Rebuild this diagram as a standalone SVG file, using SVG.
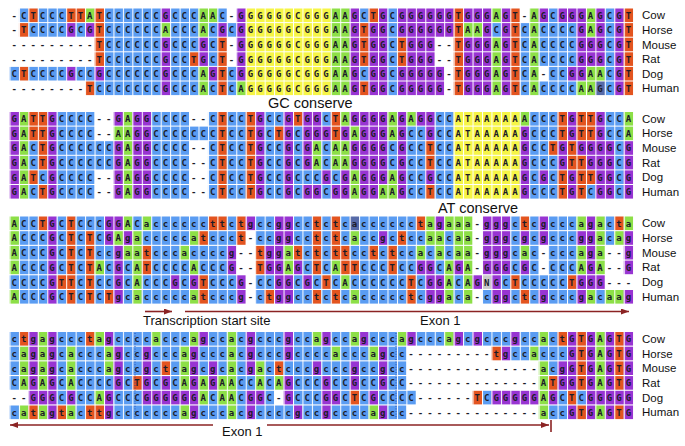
<svg xmlns="http://www.w3.org/2000/svg" width="685" height="446" viewBox="0 0 685 446">
<style>
.r rect{height:13.6px}
.c{fill:#5a9cf2}.g{fill:#9834d2}.t{fill:#e3541f}.a{fill:#8ddf47}.y{fill:#f6f546}.n{fill:#c9c9c9}.h{fill:#566aa8}
.s{font:bold 9px "DejaVu Sans Mono",monospace;letter-spacing:4.03px;fill:#1c1c28}
.lb{font:11.5px "Liberation Sans",Arial,sans-serif;fill:#111}
.note{font:14.5px "Liberation Sans",Arial,sans-serif;fill:#111}
.ann{font:13px "Liberation Sans",Arial,sans-serif;fill:#111}
.conn line{stroke:#8b2323;stroke-width:1.6;fill:none}
</style>
<defs>
<pattern id="vg" patternUnits="userSpaceOnUse" x="9.5" y="0" width="9.45" height="4"><rect x="0" y="0" width="1" height="4" fill="#fff"/></pattern>
<marker id="ah" markerUnits="userSpaceOnUse" markerWidth="9" markerHeight="7" refX="8" refY="3" orient="auto"><path d="M0,0 L8,3 L0,6 z" fill="#8b2323"/></marker>
</defs>
<rect width="685" height="446" fill="#fff"/>

<g id="block1">
<g class="r" transform="translate(9.5 8.5) scale(9.45 1)"><rect class="c" x="1" width="1"/><rect class="t" x="2" width="1"/><rect class="c" x="3" width="3"/><rect class="t" x="6" width="2"/><rect class="a" x="8" width="1"/><rect class="t" x="9" width="1"/><rect class="c" x="10" width="6"/><rect class="g" x="16" width="1"/><rect class="c" x="17" width="3"/><rect class="a" x="20" width="2"/><rect class="c" x="22" width="1"/><rect class="g" x="24" width="1"/><rect class="y" x="25" width="9"/><rect class="a" x="34" width="2"/><rect class="g" x="36" width="1"/><rect class="c" x="37" width="1"/><rect class="t" x="38" width="1"/><rect class="g" x="39" width="1"/><rect class="c" x="40" width="1"/><rect class="g" x="41" width="6"/><rect class="t" x="47" width="1"/><rect class="g" x="48" width="3"/><rect class="a" x="51" width="1"/><rect class="g" x="52" width="1"/><rect class="t" x="53" width="1"/><rect class="a" x="55" width="1"/><rect class="g" x="56" width="1"/><rect class="c" x="57" width="1"/><rect class="g" x="58" width="3"/><rect class="a" x="61" width="1"/><rect class="g" x="62" width="1"/><rect class="c" x="63" width="1"/><rect class="g" x="64" width="1"/><rect class="t" x="65" width="1"/></g>
<g class="r" transform="translate(9.5 23.1) scale(9.45 1)"><rect class="t" x="1" width="1"/><rect class="c" x="2" width="4"/><rect class="g" x="6" width="1"/><rect class="c" x="7" width="1"/><rect class="g" x="8" width="1"/><rect class="t" x="9" width="1"/><rect class="c" x="10" width="6"/><rect class="a" x="16" width="1"/><rect class="c" x="17" width="3"/><rect class="a" x="20" width="1"/><rect class="c" x="21" width="1"/><rect class="g" x="22" width="1"/><rect class="c" x="23" width="1"/><rect class="g" x="24" width="1"/><rect class="y" x="25" width="9"/><rect class="a" x="34" width="2"/><rect class="g" x="36" width="1"/><rect class="t" x="37" width="1"/><rect class="g" x="38" width="2"/><rect class="c" x="40" width="1"/><rect class="g" x="41" width="6"/><rect class="t" x="47" width="1"/><rect class="a" x="48" width="2"/><rect class="g" x="50" width="1"/><rect class="c" x="51" width="1"/><rect class="g" x="52" width="1"/><rect class="t" x="53" width="1"/><rect class="c" x="54" width="1"/><rect class="a" x="55" width="1"/><rect class="c" x="56" width="4"/><rect class="g" x="60" width="1"/><rect class="a" x="61" width="1"/><rect class="g" x="62" width="1"/><rect class="c" x="63" width="1"/><rect class="g" x="64" width="1"/><rect class="t" x="65" width="1"/></g>
<g class="r" transform="translate(9.5 37.7) scale(9.45 1)"><rect class="t" x="9" width="1"/><rect class="c" x="10" width="6"/><rect class="g" x="16" width="1"/><rect class="c" x="17" width="3"/><rect class="g" x="20" width="1"/><rect class="c" x="21" width="1"/><rect class="t" x="22" width="1"/><rect class="g" x="24" width="1"/><rect class="y" x="25" width="9"/><rect class="a" x="34" width="2"/><rect class="g" x="36" width="1"/><rect class="t" x="37" width="1"/><rect class="g" x="38" width="2"/><rect class="c" x="40" width="1"/><rect class="t" x="41" width="1"/><rect class="g" x="42" width="3"/><rect class="t" x="47" width="1"/><rect class="g" x="48" width="3"/><rect class="a" x="51" width="1"/><rect class="g" x="52" width="1"/><rect class="t" x="53" width="1"/><rect class="c" x="54" width="1"/><rect class="a" x="55" width="1"/><rect class="c" x="56" width="4"/><rect class="g" x="60" width="3"/><rect class="c" x="63" width="1"/><rect class="g" x="64" width="1"/><rect class="t" x="65" width="1"/></g>
<g class="r" transform="translate(9.5 52.3) scale(9.45 1)"><rect class="t" x="9" width="1"/><rect class="c" x="10" width="6"/><rect class="g" x="16" width="1"/><rect class="c" x="17" width="2"/><rect class="t" x="19" width="1"/><rect class="g" x="20" width="1"/><rect class="c" x="21" width="1"/><rect class="t" x="22" width="1"/><rect class="g" x="24" width="1"/><rect class="y" x="25" width="9"/><rect class="a" x="34" width="2"/><rect class="g" x="36" width="1"/><rect class="t" x="37" width="1"/><rect class="g" x="38" width="2"/><rect class="c" x="40" width="1"/><rect class="t" x="41" width="1"/><rect class="g" x="42" width="3"/><rect class="t" x="47" width="1"/><rect class="g" x="48" width="3"/><rect class="a" x="51" width="1"/><rect class="g" x="52" width="1"/><rect class="t" x="53" width="1"/><rect class="c" x="54" width="1"/><rect class="a" x="55" width="1"/><rect class="c" x="56" width="4"/><rect class="g" x="60" width="3"/><rect class="c" x="63" width="1"/><rect class="g" x="64" width="1"/><rect class="t" x="65" width="1"/></g>
<g class="r" transform="translate(9.5 66.9) scale(9.45 1)"><rect class="c" x="0" width="1"/><rect class="t" x="1" width="1"/><rect class="c" x="2" width="4"/><rect class="g" x="6" width="1"/><rect class="c" x="7" width="2"/><rect class="g" x="9" width="1"/><rect class="c" x="10" width="6"/><rect class="g" x="16" width="1"/><rect class="c" x="17" width="3"/><rect class="a" x="20" width="1"/><rect class="g" x="21" width="1"/><rect class="t" x="22" width="1"/><rect class="c" x="23" width="1"/><rect class="g" x="24" width="1"/><rect class="y" x="25" width="9"/><rect class="a" x="34" width="2"/><rect class="g" x="36" width="1"/><rect class="c" x="37" width="1"/><rect class="g" x="38" width="2"/><rect class="c" x="40" width="1"/><rect class="g" x="41" width="5"/><rect class="t" x="47" width="1"/><rect class="g" x="48" width="3"/><rect class="a" x="51" width="1"/><rect class="g" x="52" width="1"/><rect class="t" x="53" width="1"/><rect class="c" x="54" width="1"/><rect class="a" x="55" width="1"/><rect class="c" x="57" width="2"/><rect class="g" x="59" width="2"/><rect class="a" x="61" width="2"/><rect class="c" x="63" width="1"/><rect class="g" x="64" width="1"/><rect class="t" x="65" width="1"/></g>
<g class="r" transform="translate(9.5 81.5) scale(9.45 1)"><rect class="t" x="8" width="1"/><rect class="c" x="9" width="7"/><rect class="g" x="16" width="1"/><rect class="c" x="17" width="3"/><rect class="a" x="20" width="1"/><rect class="c" x="21" width="1"/><rect class="t" x="22" width="1"/><rect class="c" x="23" width="1"/><rect class="a" x="24" width="1"/><rect class="y" x="25" width="9"/><rect class="a" x="34" width="2"/><rect class="g" x="36" width="1"/><rect class="t" x="37" width="1"/><rect class="g" x="38" width="2"/><rect class="c" x="40" width="1"/><rect class="g" x="41" width="5"/><rect class="t" x="47" width="1"/><rect class="g" x="48" width="3"/><rect class="a" x="51" width="1"/><rect class="g" x="52" width="1"/><rect class="t" x="53" width="1"/><rect class="c" x="54" width="1"/><rect class="a" x="55" width="1"/><rect class="c" x="56" width="4"/><rect class="a" x="60" width="2"/><rect class="h" x="62" width="1"/><rect class="c" x="63" width="1"/><rect class="g" x="64" width="1"/><rect class="t" x="65" width="1"/></g>
<rect x="9" y="8" width="626" height="88" fill="url(#vg)"/>
<text class="s" x="11.52" y="18.7">-CTCCCTTATCCCCCCGCCCAAC-GGGGGGCGGGAAGCTGCGGGGGGTGGGAGT-AGCGGGAGCGT</text>
<text class="s" x="11.52" y="33.3">-TCCCCGCGTCCCCCCACCCACGCGGGGGGCGGGAAGTGGCGGGGGGTAAGCGTCACCCCGAGCGT</text>
<text class="s" x="11.52" y="47.9">---------TCCCCCCGCCCGCT-GGGGGGCGGGAAGTGGCTGGG--TGGGAGTCACCCCGGGCGT</text>
<text class="s" x="11.52" y="62.5">---------TCCCCCCGCCTGCT-GGGGGGCGGGAAGTGGCTGGG--TGGGAGTCACCCCGGGCGT</text>
<text class="s" x="11.52" y="77.1">CTCCCCGCCGCCCCCCGCCCAGTCGGGGGGCGGGAAGCGGCGGGGG-TGGGAGTCA-CCGGAACGT</text>
<text class="s" x="11.52" y="91.7">--------TCCCCCCCGCCCACTCAGGGGGCGGGAAGTGGCGGGGG-TGGGAGTCACCCCAAGCGT</text>
<text class="lb" x="642" y="19.3">Cow</text><text class="lb" x="642" y="33.9">Horse</text><text class="lb" x="642" y="48.5">Mouse</text><text class="lb" x="642" y="63.1">Rat</text><text class="lb" x="642" y="77.7">Dog</text><text class="lb" x="642" y="92.3">Human</text>
<text class="note" x="268" y="108">GC conserve</text>
</g>

<g id="block2">
<g class="r" transform="translate(9.5 112) scale(9.45 1)"><rect class="g" x="0" width="1"/><rect class="a" x="1" width="1"/><rect class="t" x="2" width="2"/><rect class="g" x="4" width="1"/><rect class="c" x="5" width="4"/><rect class="g" x="11" width="1"/><rect class="a" x="12" width="1"/><rect class="g" x="13" width="2"/><rect class="c" x="15" width="4"/><rect class="c" x="21" width="1"/><rect class="t" x="22" width="1"/><rect class="c" x="23" width="2"/><rect class="t" x="25" width="1"/><rect class="g" x="26" width="1"/><rect class="c" x="27" width="2"/><rect class="g" x="29" width="1"/><rect class="t" x="30" width="1"/><rect class="g" x="31" width="2"/><rect class="c" x="33" width="1"/><rect class="t" x="34" width="1"/><rect class="a" x="35" width="1"/><rect class="g" x="36" width="4"/><rect class="a" x="40" width="1"/><rect class="g" x="41" width="1"/><rect class="a" x="42" width="1"/><rect class="g" x="43" width="2"/><rect class="c" x="45" width="2"/><rect class="y" x="47" width="7"/><rect class="a" x="54" width="1"/><rect class="c" x="55" width="3"/><rect class="t" x="58" width="1"/><rect class="g" x="59" width="1"/><rect class="t" x="60" width="2"/><rect class="g" x="62" width="1"/><rect class="c" x="63" width="2"/><rect class="a" x="65" width="1"/></g>
<g class="r" transform="translate(9.5 126.6) scale(9.45 1)"><rect class="g" x="0" width="1"/><rect class="a" x="1" width="1"/><rect class="t" x="2" width="2"/><rect class="g" x="4" width="1"/><rect class="c" x="5" width="4"/><rect class="a" x="11" width="2"/><rect class="g" x="13" width="2"/><rect class="c" x="15" width="7"/><rect class="t" x="22" width="1"/><rect class="c" x="23" width="2"/><rect class="t" x="25" width="1"/><rect class="g" x="26" width="1"/><rect class="c" x="27" width="1"/><rect class="t" x="28" width="1"/><rect class="g" x="29" width="1"/><rect class="c" x="30" width="1"/><rect class="g" x="31" width="3"/><rect class="t" x="34" width="1"/><rect class="g" x="35" width="1"/><rect class="a" x="36" width="1"/><rect class="g" x="37" width="3"/><rect class="a" x="40" width="1"/><rect class="g" x="41" width="1"/><rect class="c" x="42" width="2"/><rect class="g" x="44" width="1"/><rect class="c" x="45" width="2"/><rect class="y" x="47" width="7"/><rect class="g" x="54" width="1"/><rect class="c" x="55" width="3"/><rect class="t" x="58" width="1"/><rect class="g" x="59" width="1"/><rect class="t" x="60" width="2"/><rect class="g" x="62" width="1"/><rect class="c" x="63" width="2"/><rect class="a" x="65" width="1"/></g>
<g class="r" transform="translate(9.5 141.2) scale(9.45 1)"><rect class="g" x="0" width="1"/><rect class="a" x="1" width="1"/><rect class="c" x="2" width="1"/><rect class="t" x="3" width="1"/><rect class="g" x="4" width="1"/><rect class="c" x="5" width="6"/><rect class="g" x="11" width="1"/><rect class="a" x="12" width="1"/><rect class="g" x="13" width="2"/><rect class="c" x="15" width="4"/><rect class="c" x="21" width="1"/><rect class="t" x="22" width="1"/><rect class="c" x="23" width="2"/><rect class="t" x="25" width="1"/><rect class="g" x="26" width="1"/><rect class="c" x="27" width="2"/><rect class="g" x="29" width="1"/><rect class="c" x="30" width="1"/><rect class="g" x="31" width="1"/><rect class="a" x="32" width="1"/><rect class="c" x="33" width="1"/><rect class="a" x="34" width="2"/><rect class="g" x="36" width="4"/><rect class="c" x="40" width="1"/><rect class="g" x="41" width="1"/><rect class="c" x="42" width="2"/><rect class="t" x="44" width="1"/><rect class="c" x="45" width="2"/><rect class="y" x="47" width="7"/><rect class="g" x="54" width="1"/><rect class="c" x="55" width="2"/><rect class="t" x="57" width="1"/><rect class="g" x="58" width="1"/><rect class="t" x="59" width="1"/><rect class="g" x="60" width="4"/><rect class="c" x="64" width="1"/><rect class="g" x="65" width="1"/></g>
<g class="r" transform="translate(9.5 155.8) scale(9.45 1)"><rect class="g" x="0" width="1"/><rect class="a" x="1" width="1"/><rect class="c" x="2" width="1"/><rect class="t" x="3" width="1"/><rect class="g" x="4" width="1"/><rect class="c" x="5" width="6"/><rect class="g" x="11" width="1"/><rect class="a" x="12" width="1"/><rect class="g" x="13" width="2"/><rect class="c" x="15" width="4"/><rect class="c" x="21" width="1"/><rect class="t" x="22" width="1"/><rect class="c" x="23" width="2"/><rect class="t" x="25" width="1"/><rect class="g" x="26" width="1"/><rect class="c" x="27" width="2"/><rect class="g" x="29" width="1"/><rect class="c" x="30" width="1"/><rect class="g" x="31" width="1"/><rect class="a" x="32" width="1"/><rect class="c" x="33" width="1"/><rect class="a" x="34" width="2"/><rect class="g" x="36" width="4"/><rect class="c" x="40" width="1"/><rect class="g" x="41" width="1"/><rect class="c" x="42" width="2"/><rect class="t" x="44" width="1"/><rect class="c" x="45" width="2"/><rect class="y" x="47" width="7"/><rect class="g" x="54" width="1"/><rect class="c" x="55" width="3"/><rect class="g" x="58" width="1"/><rect class="t" x="59" width="2"/><rect class="g" x="61" width="3"/><rect class="c" x="64" width="1"/><rect class="g" x="65" width="1"/></g>
<g class="r" transform="translate(9.5 170.4) scale(9.45 1)"><rect class="g" x="0" width="1"/><rect class="a" x="1" width="1"/><rect class="t" x="2" width="1"/><rect class="c" x="3" width="1"/><rect class="g" x="4" width="1"/><rect class="c" x="5" width="4"/><rect class="g" x="11" width="1"/><rect class="a" x="12" width="1"/><rect class="g" x="13" width="2"/><rect class="c" x="15" width="4"/><rect class="c" x="21" width="1"/><rect class="t" x="22" width="1"/><rect class="c" x="23" width="2"/><rect class="t" x="25" width="1"/><rect class="g" x="26" width="1"/><rect class="c" x="27" width="2"/><rect class="g" x="29" width="1"/><rect class="c" x="30" width="3"/><rect class="g" x="33" width="1"/><rect class="c" x="34" width="1"/><rect class="g" x="35" width="1"/><rect class="a" x="36" width="1"/><rect class="g" x="37" width="3"/><rect class="a" x="40" width="1"/><rect class="g" x="41" width="1"/><rect class="c" x="42" width="2"/><rect class="g" x="44" width="1"/><rect class="c" x="45" width="2"/><rect class="y" x="47" width="7"/><rect class="g" x="54" width="1"/><rect class="c" x="55" width="1"/><rect class="g" x="56" width="1"/><rect class="c" x="57" width="1"/><rect class="t" x="58" width="1"/><rect class="g" x="59" width="1"/><rect class="t" x="60" width="2"/><rect class="g" x="62" width="2"/><rect class="c" x="64" width="1"/><rect class="g" x="65" width="1"/></g>
<g class="r" transform="translate(9.5 185) scale(9.45 1)"><rect class="g" x="0" width="1"/><rect class="a" x="1" width="1"/><rect class="c" x="2" width="1"/><rect class="t" x="3" width="1"/><rect class="g" x="4" width="1"/><rect class="c" x="5" width="4"/><rect class="g" x="11" width="1"/><rect class="a" x="12" width="1"/><rect class="g" x="13" width="2"/><rect class="c" x="15" width="4"/><rect class="c" x="21" width="1"/><rect class="t" x="22" width="1"/><rect class="c" x="23" width="2"/><rect class="t" x="25" width="1"/><rect class="g" x="26" width="1"/><rect class="c" x="27" width="2"/><rect class="g" x="29" width="1"/><rect class="c" x="30" width="1"/><rect class="g" x="31" width="2"/><rect class="c" x="33" width="1"/><rect class="g" x="34" width="2"/><rect class="a" x="36" width="1"/><rect class="g" x="37" width="2"/><rect class="a" x="39" width="2"/><rect class="g" x="41" width="1"/><rect class="c" x="42" width="2"/><rect class="t" x="44" width="1"/><rect class="c" x="45" width="2"/><rect class="y" x="47" width="7"/><rect class="g" x="54" width="1"/><rect class="c" x="55" width="3"/><rect class="t" x="58" width="1"/><rect class="g" x="59" width="1"/><rect class="t" x="60" width="1"/><rect class="c" x="61" width="1"/><rect class="g" x="62" width="2"/><rect class="c" x="64" width="1"/><rect class="g" x="65" width="1"/></g>
<rect x="9" y="112" width="626" height="87" fill="url(#vg)"/>
<text class="s" x="11.52" y="122.2">GATTGCCCC--GAGGCCCC--CTCCTGCCGTGGCTAGGGGAGAGGCCATAAAAAACCCTGTTGCCA</text>
<text class="s" x="11.52" y="136.8">GATTGCCCC--AAGGCCCCCCCTCCTGCTGCGGGTGAGGGAGCCGCCATAAAAAGCCCTGTTGCCA</text>
<text class="s" x="11.52" y="151.4">GACTGCCCCCCGAGGCCCC--CTCCTGCCGCGACAAGGGGCGCCTCCATAAAAAGCCTGTGGGGCG</text>
<text class="s" x="11.52" y="166">GACTGCCCCCCGAGGCCCC--CTCCTGCCGCGACAAGGGGCGCCTCCATAAAAAGCCCGTTGGGCG</text>
<text class="s" x="11.52" y="180.6">GATCGCCCC--GAGGCCCC--CTCCTGCCGCCCGCGAGGGAGCCGCCATAAAAAGCGCTGTTGGCG</text>
<text class="s" x="11.52" y="195.2">GACTGCCCC--GAGGCCCC--CTCCTGCCGCGGCGGAGGAAGCCTCCATAAAAAGCCCTGTCGGCG</text>
<text class="lb" x="642" y="122.8">Cow</text><text class="lb" x="642" y="137.4">Horse</text><text class="lb" x="642" y="152">Mouse</text><text class="lb" x="642" y="166.6">Rat</text><text class="lb" x="642" y="181.2">Dog</text><text class="lb" x="642" y="195.8">Human</text>
<text class="note" x="438" y="213">AT conserve</text>
</g>

<g id="block3">
<g class="r" transform="translate(9.5 216.5) scale(9.45 1)"><rect class="a" x="0" width="1"/><rect class="c" x="1" width="2"/><rect class="t" x="3" width="1"/><rect class="g" x="4" width="1"/><rect class="c" x="5" width="1"/><rect class="t" x="6" width="1"/><rect class="c" x="7" width="3"/><rect class="g" x="10" width="2"/><rect class="a" x="12" width="1"/><rect class="c" x="13" width="1"/><rect class="a" x="14" width="1"/><rect class="c" x="15" width="6"/><rect class="t" x="21" width="2"/><rect class="c" x="23" width="1"/><rect class="t" x="24" width="1"/><rect class="g" x="25" width="1"/><rect class="c" x="26" width="2"/><rect class="g" x="28" width="2"/><rect class="c" x="30" width="2"/><rect class="t" x="32" width="1"/><rect class="c" x="33" width="1"/><rect class="t" x="34" width="1"/><rect class="c" x="35" width="1"/><rect class="h" x="36" width="1"/><rect class="c" x="37" width="6"/><rect class="t" x="43" width="1"/><rect class="a" x="44" width="1"/><rect class="g" x="45" width="1"/><rect class="a" x="46" width="3"/><rect class="g" x="50" width="3"/><rect class="c" x="53" width="1"/><rect class="t" x="54" width="1"/><rect class="c" x="55" width="1"/><rect class="g" x="56" width="1"/><rect class="c" x="57" width="3"/><rect class="a" x="60" width="1"/><rect class="g" x="61" width="1"/><rect class="a" x="62" width="1"/><rect class="c" x="63" width="1"/><rect class="t" x="64" width="1"/><rect class="a" x="65" width="1"/></g>
<g class="r" transform="translate(9.5 231.2) scale(9.45 1)"><rect class="a" x="0" width="1"/><rect class="c" x="1" width="3"/><rect class="g" x="4" width="1"/><rect class="c" x="5" width="1"/><rect class="t" x="6" width="1"/><rect class="c" x="7" width="1"/><rect class="t" x="8" width="1"/><rect class="c" x="9" width="1"/><rect class="g" x="10" width="1"/><rect class="a" x="11" width="1"/><rect class="g" x="12" width="1"/><rect class="a" x="13" width="1"/><rect class="c" x="14" width="5"/><rect class="a" x="19" width="1"/><rect class="t" x="20" width="1"/><rect class="c" x="21" width="3"/><rect class="t" x="24" width="1"/><rect class="c" x="26" width="2"/><rect class="g" x="28" width="2"/><rect class="c" x="30" width="2"/><rect class="t" x="32" width="1"/><rect class="c" x="33" width="1"/><rect class="t" x="34" width="1"/><rect class="c" x="35" width="1"/><rect class="a" x="36" width="1"/><rect class="c" x="37" width="2"/><rect class="g" x="39" width="1"/><rect class="c" x="40" width="1"/><rect class="t" x="41" width="1"/><rect class="c" x="42" width="2"/><rect class="a" x="44" width="2"/><rect class="c" x="46" width="1"/><rect class="a" x="47" width="2"/><rect class="g" x="50" width="3"/><rect class="c" x="53" width="1"/><rect class="g" x="54" width="1"/><rect class="c" x="55" width="1"/><rect class="g" x="56" width="1"/><rect class="c" x="57" width="3"/><rect class="g" x="60" width="2"/><rect class="a" x="62" width="1"/><rect class="c" x="63" width="1"/><rect class="a" x="64" width="1"/><rect class="g" x="65" width="1"/></g>
<g class="r" transform="translate(9.5 245.9) scale(9.45 1)"><rect class="a" x="0" width="1"/><rect class="c" x="1" width="3"/><rect class="g" x="4" width="1"/><rect class="c" x="5" width="1"/><rect class="t" x="6" width="1"/><rect class="c" x="7" width="1"/><rect class="t" x="8" width="1"/><rect class="c" x="9" width="2"/><rect class="g" x="11" width="1"/><rect class="a" x="12" width="2"/><rect class="t" x="14" width="1"/><rect class="c" x="15" width="3"/><rect class="a" x="18" width="1"/><rect class="c" x="19" width="4"/><rect class="g" x="23" width="1"/><rect class="t" x="26" width="1"/><rect class="g" x="27" width="2"/><rect class="a" x="29" width="1"/><rect class="t" x="30" width="1"/><rect class="c" x="31" width="1"/><rect class="t" x="32" width="1"/><rect class="c" x="33" width="1"/><rect class="t" x="34" width="2"/><rect class="c" x="36" width="2"/><rect class="t" x="38" width="1"/><rect class="c" x="39" width="1"/><rect class="t" x="40" width="1"/><rect class="c" x="41" width="2"/><rect class="a" x="43" width="1"/><rect class="c" x="44" width="1"/><rect class="a" x="45" width="1"/><rect class="c" x="46" width="1"/><rect class="a" x="47" width="2"/><rect class="g" x="50" width="3"/><rect class="c" x="53" width="1"/><rect class="a" x="54" width="1"/><rect class="c" x="55" width="1"/><rect class="c" x="57" width="3"/><rect class="a" x="60" width="1"/><rect class="g" x="61" width="1"/><rect class="a" x="62" width="1"/><rect class="g" x="65" width="1"/></g>
<g class="r" transform="translate(9.5 260.6) scale(9.45 1)"><rect class="a" x="0" width="1"/><rect class="c" x="1" width="3"/><rect class="g" x="4" width="1"/><rect class="c" x="5" width="1"/><rect class="t" x="6" width="1"/><rect class="c" x="7" width="1"/><rect class="t" x="8" width="1"/><rect class="a" x="9" width="1"/><rect class="c" x="10" width="1"/><rect class="g" x="11" width="1"/><rect class="c" x="12" width="1"/><rect class="a" x="13" width="1"/><rect class="t" x="14" width="1"/><rect class="c" x="15" width="4"/><rect class="a" x="19" width="1"/><rect class="c" x="20" width="3"/><rect class="g" x="23" width="1"/><rect class="t" x="26" width="1"/><rect class="g" x="27" width="2"/><rect class="a" x="29" width="1"/><rect class="g" x="30" width="1"/><rect class="c" x="31" width="1"/><rect class="t" x="32" width="1"/><rect class="c" x="33" width="1"/><rect class="a" x="34" width="1"/><rect class="t" x="35" width="2"/><rect class="c" x="37" width="3"/><rect class="t" x="40" width="1"/><rect class="c" x="41" width="2"/><rect class="g" x="43" width="2"/><rect class="c" x="45" width="1"/><rect class="a" x="46" width="1"/><rect class="g" x="47" width="1"/><rect class="a" x="48" width="1"/><rect class="g" x="50" width="3"/><rect class="c" x="53" width="1"/><rect class="g" x="54" width="1"/><rect class="c" x="55" width="1"/><rect class="c" x="57" width="3"/><rect class="a" x="60" width="1"/><rect class="g" x="61" width="1"/><rect class="a" x="62" width="1"/><rect class="g" x="65" width="1"/></g>
<g class="r" transform="translate(9.5 275.3) scale(9.45 1)"><rect class="c" x="0" width="4"/><rect class="g" x="4" width="1"/><rect class="t" x="5" width="2"/><rect class="c" x="7" width="1"/><rect class="t" x="8" width="1"/><rect class="c" x="9" width="2"/><rect class="g" x="11" width="1"/><rect class="c" x="12" width="1"/><rect class="a" x="13" width="1"/><rect class="c" x="14" width="3"/><rect class="g" x="17" width="1"/><rect class="c" x="18" width="1"/><rect class="g" x="19" width="1"/><rect class="t" x="20" width="1"/><rect class="c" x="21" width="3"/><rect class="g" x="24" width="1"/><rect class="c" x="26" width="2"/><rect class="g" x="28" width="2"/><rect class="c" x="30" width="1"/><rect class="g" x="31" width="1"/><rect class="c" x="32" width="1"/><rect class="t" x="33" width="1"/><rect class="c" x="34" width="1"/><rect class="a" x="35" width="1"/><rect class="c" x="36" width="6"/><rect class="t" x="42" width="1"/><rect class="c" x="43" width="1"/><rect class="g" x="44" width="2"/><rect class="a" x="46" width="1"/><rect class="c" x="47" width="1"/><rect class="a" x="48" width="1"/><rect class="g" x="49" width="1"/><rect class="n" x="50" width="1"/><rect class="g" x="51" width="1"/><rect class="c" x="52" width="1"/><rect class="t" x="53" width="1"/><rect class="c" x="54" width="5"/><rect class="t" x="59" width="1"/><rect class="g" x="60" width="3"/></g>
<g class="r" transform="translate(9.5 290) scale(9.45 1)"><rect class="a" x="0" width="1"/><rect class="c" x="1" width="3"/><rect class="g" x="4" width="1"/><rect class="c" x="5" width="1"/><rect class="t" x="6" width="1"/><rect class="c" x="7" width="1"/><rect class="t" x="8" width="1"/><rect class="c" x="9" width="1"/><rect class="t" x="10" width="1"/><rect class="g" x="11" width="1"/><rect class="c" x="12" width="1"/><rect class="a" x="13" width="1"/><rect class="c" x="14" width="5"/><rect class="a" x="19" width="1"/><rect class="t" x="20" width="1"/><rect class="c" x="21" width="3"/><rect class="g" x="24" width="1"/><rect class="c" x="26" width="1"/><rect class="t" x="27" width="1"/><rect class="g" x="28" width="2"/><rect class="c" x="30" width="2"/><rect class="t" x="32" width="1"/><rect class="c" x="33" width="1"/><rect class="t" x="34" width="1"/><rect class="c" x="35" width="1"/><rect class="a" x="36" width="1"/><rect class="c" x="37" width="5"/><rect class="t" x="42" width="1"/><rect class="c" x="43" width="1"/><rect class="g" x="44" width="2"/><rect class="a" x="46" width="1"/><rect class="c" x="47" width="1"/><rect class="a" x="48" width="1"/><rect class="c" x="50" width="1"/><rect class="g" x="51" width="2"/><rect class="c" x="53" width="1"/><rect class="t" x="54" width="1"/><rect class="c" x="55" width="1"/><rect class="g" x="56" width="1"/><rect class="c" x="57" width="3"/><rect class="g" x="60" width="1"/><rect class="a" x="61" width="1"/><rect class="c" x="62" width="1"/><rect class="a" x="63" width="2"/><rect class="g" x="65" width="1"/></g>
<rect x="9" y="216" width="626" height="88" fill="url(#vg)"/>
<text class="s" x="11.52" y="226.7">ACCTGCTCCCGGACaccccccttctgccggcctctcacccccctagaaa-gggctcgcccagacta</text>
<text class="s" x="11.52" y="241.4">ACCCGCTCTCGAgacccccatccct-ccggcctctcaccgctccaacaa-gggcgcgcccggacag</text>
<text class="s" x="11.52" y="256.1">ACCCGCTCTccgaatcccaccccg--tggatctcttcctctccacacaa-gggcac-cccaga--g</text>
<text class="s" x="11.52" y="270.8">ACCCGCTCTACGCATCCCCACCCG--TGGAGCTCATTCCCTCCGGCAGA-GGGCGC-CCCAGA--G</text>
<text class="s" x="11.52" y="285.5">CCCCGTTCTCCGCACCCGCGTCCCG-CCGGCGCTCACCCCCCTCGGACAGNGCTCCCCCTGGG---</text>
<text class="s" x="11.52" y="300.2">ACCCGCTCTCTgcacccccatcccg-ctggcctctcaccccctcggaca-cggctcgcccgacaag</text>
<text class="lb" x="642" y="227.3">Cow</text><text class="lb" x="642" y="242">Horse</text><text class="lb" x="642" y="256.7">Mouse</text><text class="lb" x="642" y="271.4">Rat</text><text class="lb" x="642" y="286.1">Dog</text><text class="lb" x="642" y="300.8">Human</text>
<text class="ann" x="143" y="325" font-weight="bold">Transcription start site</text>
<text class="ann" x="420" y="325">Exon 1</text>
</g>

<g id="block4">
<g class="r" transform="translate(9.5 332) scale(9.45 1)"><rect class="c" x="0" width="1"/><rect class="t" x="1" width="1"/><rect class="g" x="2" width="1"/><rect class="a" x="3" width="1"/><rect class="g" x="4" width="1"/><rect class="c" x="5" width="3"/><rect class="t" x="8" width="1"/><rect class="a" x="9" width="1"/><rect class="g" x="10" width="1"/><rect class="c" x="11" width="4"/><rect class="a" x="15" width="1"/><rect class="c" x="16" width="3"/><rect class="a" x="19" width="1"/><rect class="g" x="20" width="1"/><rect class="c" x="21" width="2"/><rect class="a" x="23" width="1"/><rect class="c" x="24" width="1"/><rect class="g" x="25" width="1"/><rect class="c" x="26" width="3"/><rect class="g" x="29" width="1"/><rect class="c" x="30" width="2"/><rect class="a" x="32" width="1"/><rect class="g" x="33" width="1"/><rect class="c" x="34" width="2"/><rect class="a" x="36" width="1"/><rect class="g" x="37" width="1"/><rect class="c" x="38" width="3"/><rect class="a" x="41" width="1"/><rect class="g" x="42" width="1"/><rect class="c" x="43" width="3"/><rect class="a" x="46" width="1"/><rect class="g" x="47" width="1"/><rect class="c" x="48" width="1"/><rect class="g" x="49" width="1"/><rect class="c" x="50" width="3"/><rect class="g" x="53" width="1"/><rect class="c" x="54" width="2"/><rect class="a" x="56" width="1"/><rect class="c" x="57" width="1"/><rect class="t" x="58" width="1"/><rect class="g" x="59" width="1"/><rect class="t" x="60" width="1"/><rect class="g" x="61" width="1"/><rect class="a" x="62" width="1"/><rect class="g" x="63" width="1"/><rect class="t" x="64" width="1"/><rect class="g" x="65" width="1"/></g>
<g class="r" transform="translate(9.5 346.7) scale(9.45 1)"><rect class="c" x="0" width="1"/><rect class="a" x="1" width="1"/><rect class="g" x="2" width="1"/><rect class="a" x="3" width="1"/><rect class="g" x="4" width="1"/><rect class="c" x="5" width="1"/><rect class="a" x="6" width="1"/><rect class="c" x="7" width="3"/><rect class="a" x="10" width="1"/><rect class="g" x="11" width="1"/><rect class="c" x="12" width="2"/><rect class="g" x="14" width="1"/><rect class="c" x="15" width="3"/><rect class="a" x="18" width="1"/><rect class="g" x="19" width="1"/><rect class="c" x="20" width="3"/><rect class="a" x="23" width="1"/><rect class="c" x="24" width="1"/><rect class="g" x="25" width="1"/><rect class="c" x="26" width="3"/><rect class="g" x="29" width="1"/><rect class="c" x="30" width="4"/><rect class="a" x="34" width="1"/><rect class="c" x="35" width="3"/><rect class="a" x="38" width="1"/><rect class="g" x="39" width="1"/><rect class="c" x="40" width="2"/><rect class="t" x="51" width="1"/><rect class="g" x="52" width="1"/><rect class="c" x="53" width="2"/><rect class="a" x="55" width="1"/><rect class="c" x="56" width="3"/><rect class="g" x="59" width="1"/><rect class="t" x="60" width="1"/><rect class="g" x="61" width="1"/><rect class="a" x="62" width="1"/><rect class="g" x="63" width="1"/><rect class="t" x="64" width="1"/><rect class="g" x="65" width="1"/></g>
<g class="r" transform="translate(9.5 361.4) scale(9.45 1)"><rect class="c" x="0" width="1"/><rect class="a" x="1" width="1"/><rect class="g" x="2" width="1"/><rect class="a" x="3" width="1"/><rect class="g" x="4" width="1"/><rect class="c" x="5" width="1"/><rect class="a" x="6" width="1"/><rect class="c" x="7" width="3"/><rect class="a" x="10" width="1"/><rect class="g" x="11" width="1"/><rect class="c" x="12" width="2"/><rect class="g" x="14" width="1"/><rect class="c" x="15" width="1"/><rect class="t" x="16" width="1"/><rect class="c" x="17" width="1"/><rect class="a" x="18" width="1"/><rect class="g" x="19" width="1"/><rect class="c" x="20" width="1"/><rect class="g" x="21" width="1"/><rect class="c" x="22" width="1"/><rect class="a" x="23" width="1"/><rect class="c" x="24" width="1"/><rect class="g" x="25" width="1"/><rect class="a" x="26" width="1"/><rect class="c" x="27" width="1"/><rect class="t" x="28" width="1"/><rect class="c" x="29" width="3"/><rect class="g" x="32" width="1"/><rect class="c" x="33" width="3"/><rect class="g" x="36" width="1"/><rect class="c" x="37" width="2"/><rect class="g" x="39" width="1"/><rect class="c" x="40" width="2"/><rect class="a" x="56" width="1"/><rect class="c" x="57" width="1"/><rect class="g" x="58" width="2"/><rect class="t" x="60" width="1"/><rect class="g" x="61" width="1"/><rect class="a" x="62" width="1"/><rect class="g" x="63" width="1"/><rect class="t" x="64" width="1"/><rect class="g" x="65" width="1"/></g>
<g class="r" transform="translate(9.5 376.1) scale(9.45 1)"><rect class="c" x="0" width="1"/><rect class="a" x="1" width="1"/><rect class="g" x="2" width="1"/><rect class="a" x="3" width="1"/><rect class="g" x="4" width="1"/><rect class="c" x="5" width="1"/><rect class="a" x="6" width="1"/><rect class="c" x="7" width="4"/><rect class="g" x="11" width="1"/><rect class="c" x="12" width="1"/><rect class="t" x="13" width="1"/><rect class="g" x="14" width="1"/><rect class="c" x="15" width="1"/><rect class="g" x="16" width="1"/><rect class="c" x="17" width="1"/><rect class="a" x="18" width="1"/><rect class="g" x="19" width="1"/><rect class="a" x="20" width="1"/><rect class="g" x="21" width="1"/><rect class="a" x="22" width="2"/><rect class="c" x="24" width="2"/><rect class="a" x="26" width="1"/><rect class="c" x="27" width="1"/><rect class="a" x="28" width="1"/><rect class="g" x="29" width="1"/><rect class="c" x="30" width="3"/><rect class="g" x="33" width="1"/><rect class="c" x="34" width="2"/><rect class="g" x="36" width="1"/><rect class="c" x="37" width="2"/><rect class="g" x="39" width="1"/><rect class="c" x="40" width="2"/><rect class="a" x="56" width="1"/><rect class="t" x="57" width="1"/><rect class="g" x="58" width="2"/><rect class="t" x="60" width="1"/><rect class="g" x="61" width="1"/><rect class="a" x="62" width="1"/><rect class="g" x="63" width="1"/><rect class="t" x="64" width="1"/><rect class="g" x="65" width="1"/></g>
<g class="r" transform="translate(9.5 390.8) scale(9.45 1)"><rect class="g" x="2" width="3"/><rect class="c" x="5" width="1"/><rect class="g" x="6" width="1"/><rect class="c" x="7" width="2"/><rect class="a" x="9" width="1"/><rect class="g" x="10" width="1"/><rect class="c" x="11" width="3"/><rect class="g" x="14" width="6"/><rect class="a" x="20" width="1"/><rect class="c" x="21" width="1"/><rect class="a" x="22" width="2"/><rect class="c" x="24" width="1"/><rect class="g" x="25" width="2"/><rect class="c" x="27" width="1"/><rect class="g" x="29" width="1"/><rect class="c" x="30" width="3"/><rect class="g" x="33" width="2"/><rect class="c" x="35" width="1"/><rect class="t" x="36" width="1"/><rect class="c" x="37" width="1"/><rect class="g" x="38" width="1"/><rect class="c" x="39" width="4"/><rect class="t" x="49" width="1"/><rect class="c" x="50" width="1"/><rect class="g" x="51" width="5"/><rect class="a" x="56" width="1"/><rect class="g" x="57" width="1"/><rect class="c" x="58" width="1"/><rect class="t" x="59" width="1"/><rect class="c" x="60" width="1"/><rect class="g" x="61" width="5"/></g>
<g class="r" transform="translate(9.5 405.5) scale(9.45 1)"><rect class="c" x="0" width="1"/><rect class="a" x="1" width="1"/><rect class="t" x="2" width="1"/><rect class="a" x="3" width="1"/><rect class="g" x="4" width="1"/><rect class="t" x="5" width="1"/><rect class="a" x="6" width="1"/><rect class="c" x="7" width="1"/><rect class="t" x="8" width="2"/><rect class="g" x="10" width="1"/><rect class="c" x="11" width="7"/><rect class="a" x="18" width="1"/><rect class="g" x="19" width="1"/><rect class="c" x="20" width="3"/><rect class="a" x="23" width="1"/><rect class="c" x="24" width="1"/><rect class="g" x="25" width="1"/><rect class="c" x="26" width="4"/><rect class="g" x="30" width="1"/><rect class="c" x="31" width="2"/><rect class="g" x="33" width="1"/><rect class="c" x="34" width="4"/><rect class="a" x="38" width="1"/><rect class="g" x="39" width="1"/><rect class="c" x="40" width="2"/><rect class="a" x="56" width="1"/><rect class="c" x="57" width="2"/><rect class="g" x="59" width="1"/><rect class="t" x="60" width="1"/><rect class="g" x="61" width="1"/><rect class="a" x="62" width="1"/><rect class="g" x="63" width="1"/><rect class="t" x="64" width="1"/><rect class="g" x="65" width="1"/></g>
<rect x="9" y="332" width="626" height="88" fill="url(#vg)"/>
<text class="s" x="11.52" y="342.2">ctgagccctagccccacccagccacgcccgccagccagcccagcccagcgcccgccactGTGAGTG</text>
<text class="s" x="11.52" y="356.9">cagagcacccagccgcccagcccacgcccgccccacccagcc---------tgccacccGTGAGTG</text>
<text class="s" x="11.52" y="371.6">cagagcacccagccgctcagcgcacgactcccgcccgccgcc--------------acgGTGAGTG</text>
<text class="s" x="11.52" y="386.3">CAGAGCACCCCGCTGCGCAGAGAACCACAGCCCGCCGCCGCC--------------ATGGTGAGTG</text>
<text class="s" x="11.52" y="401">--GGGCGCCAGCCCGGGGGGACAACGGC-GCCCGGCTCGCCCC------TCGGGGGAGCTCGGGGG</text>
<text class="s" x="11.52" y="415.7">catagtacttgcccccccagcccacgccccgccgccccagcc--------------accGTGAGTG</text>
<text class="lb" x="642" y="342.8">Cow</text><text class="lb" x="642" y="357.5">Horse</text><text class="lb" x="642" y="372.2">Mouse</text><text class="lb" x="642" y="386.9">Rat</text><text class="lb" x="642" y="401.6">Dog</text><text class="lb" x="642" y="416.3">Human</text>
<line x1="135" y1="333" x2="135" y2="419" stroke="#1d3c9c" stroke-width="0.8" stroke-dasharray="1 1.6"/>
<line x1="396" y1="333" x2="396" y2="419" stroke="#1d3c9c" stroke-width="0.8" stroke-dasharray="1 1.6"/>
<text class="ann" x="222" y="436" font-size="11.5" font-weight="bold">Exon 1</text>
</g>

<g id="connectors" class="conn">
<line x1="145" y1="311.5" x2="172" y2="311.5" marker-end="url(#ah)"/>
<line x1="185" y1="311.5" x2="629" y2="311.5" marker-end="url(#ah)"/>
<line x1="213" y1="425" x2="10" y2="425" marker-end="url(#ah)"/>
<line x1="267" y1="425" x2="549" y2="425" marker-end="url(#ah)"/>
<line x1="551" y1="420" x2="551" y2="432"/>
</g>
</svg>
